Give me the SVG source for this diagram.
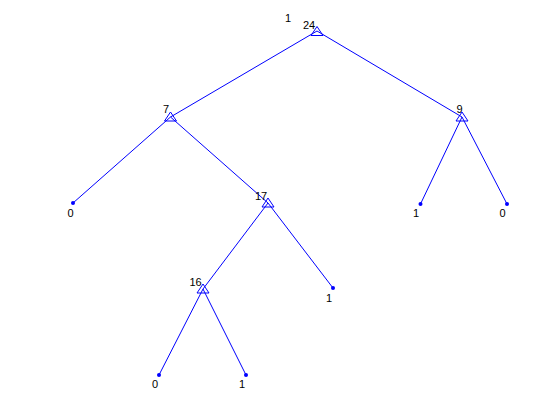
<svg xmlns="http://www.w3.org/2000/svg" width="560" height="420" viewBox="0 0 560 420">
<style>
.e{stroke:#0000ff;stroke-width:1;fill:none}
.t{fill:none;stroke:#0000ff;stroke-width:1}
.d{fill:#0000ff}
text{font-family:"Liberation Sans",Arial,sans-serif;font-size:11px;fill:#000}
</style>
<rect width="560" height="420" fill="#fff"/>
<g id="connectors">
<line class="e" x1="317" y1="31" x2="170.5" y2="117"/>
<line class="e" x1="317" y1="31" x2="462" y2="117"/>
<line class="e" x1="170.5" y1="117" x2="73" y2="203"/>
<line class="e" x1="170.5" y1="117" x2="268" y2="203"/>
<line class="e" x1="462" y1="117" x2="420.5" y2="204"/>
<line class="e" x1="462" y1="117" x2="507" y2="204"/>
<line class="e" x1="268" y1="203" x2="203" y2="289"/>
<line class="e" x1="268" y1="203" x2="333" y2="288"/>
<line class="e" x1="203" y1="289" x2="159" y2="375"/>
<line class="e" x1="203" y1="289" x2="246" y2="375"/>
</g>
<text x="285" y="22">1</text>
<g id="n24"><polygon class="t" points="317,26.5 311,35.5 323,35.5"/><text x="303" y="29">24</text></g>
<g id="n7"><polygon class="t" points="170.5,112 164.5,121 176.5,121"/><text x="163" y="113">7</text></g>
<g id="n9"><polygon class="t" points="462,112 456,121 468,121"/><text x="456.5" y="113">9</text></g>
<g id="n17"><polygon class="t" points="268,198 262,207 274,207"/><text x="255" y="200">17</text></g>
<g id="n16"><polygon class="t" points="203,284 197,293 209,293"/><text x="189.5" y="286">16</text></g>
<g id="l0a"><circle class="d" cx="73" cy="203" r="2"/><text x="67.5" y="217">0</text></g>
<g id="l1a"><circle class="d" cx="420.5" cy="204" r="2"/><text x="413" y="217">1</text></g>
<g id="l0b"><circle class="d" cx="507" cy="204" r="2"/><text x="499.5" y="217">0</text></g>
<g id="l1b"><circle class="d" cx="333" cy="288" r="2"/><text x="326" y="302">1</text></g>
<g id="l0c"><circle class="d" cx="159" cy="375" r="2"/><text x="152" y="388">0</text></g>
<g id="l1c"><circle class="d" cx="246" cy="375" r="2"/><text x="239" y="388">1</text></g>
</svg>
